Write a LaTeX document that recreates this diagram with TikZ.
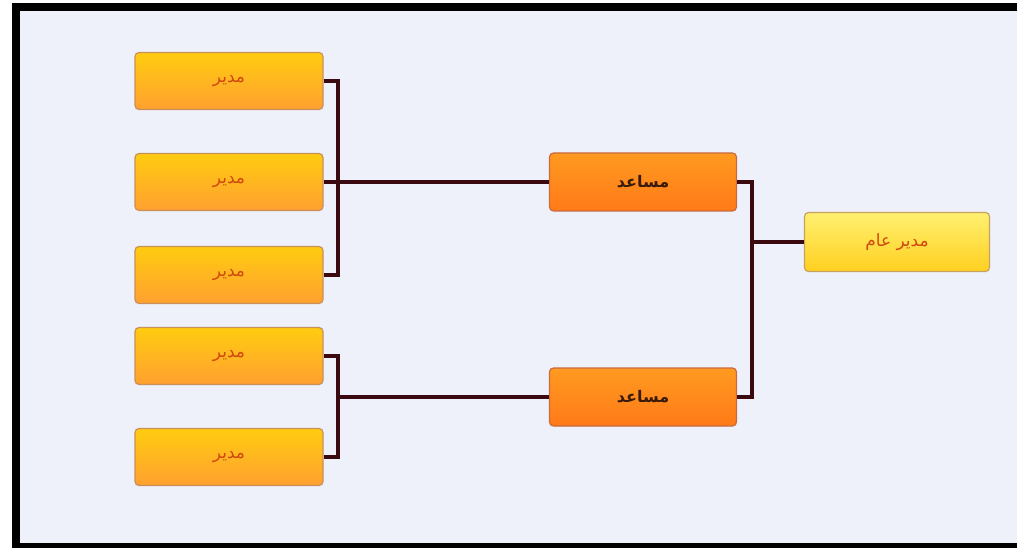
\documentclass[tikz,border=0pt]{standalone}
\usepackage{fontspec}
\newfontfamily\arabicfont[Script=Arabic]{DejaVu Sans}
\TeXXeTstate=1
\begin{document}
\begin{tikzpicture}[x=1pt,y=-1pt,
  mgr/.style={draw=mgrborder, line width=1.2pt, rounded corners=4pt, minimum width=188pt, minimum height=57pt, top color=mgrtop, bottom color=mgrbot, font=\arabicfont\fontsize{17}{17}\selectfont, text=mgrtext},
  asst/.style={draw=asstborder, line width=1.2pt, rounded corners=4pt, minimum width=187pt, minimum height=58pt, top color=assttop, bottom color=asstbot, font=\arabicfont\bfseries\fontsize{16}{16}\selectfont, text=assttext},
  gm/.style={draw=gmborder, line width=1.2pt, rounded corners=4pt, minimum width=185pt, minimum height=59pt, top color=gmtop, bottom color=gmbot, font=\arabicfont\fontsize{17}{17}\selectfont, text=mgrtext},
  conn/.style={draw=conncol, line width=4.5pt}]
\definecolor{bgc}{HTML}{EEF1FA}
\definecolor{mgrborder}{HTML}{C8905A}
\definecolor{mgrtop}{HTML}{FFCC10}
\definecolor{mgrbot}{HTML}{FFA030}
\definecolor{mgrtext}{HTML}{D04A10}
\definecolor{asstborder}{HTML}{C86A40}
\definecolor{assttop}{HTML}{FF9A20}
\definecolor{asstbot}{HTML}{FF7A18}
\definecolor{assttext}{HTML}{3A1A08}
\definecolor{gmborder}{HTML}{C8A060}
\definecolor{gmtop}{HTML}{FFF070}
\definecolor{gmbot}{HTML}{FFD020}
\definecolor{conncol}{HTML}{3A0A10}
\useasboundingbox (0,0) rectangle (1017,548);
\fill[white] (0,0) rectangle (1017,548);
\fill[black] (12,3) rectangle (1017,548);
\fill[bgc] (20,11) rectangle (1017,543);
% manager boxes
\node[mgr] (m1) at (229,81) {\beginR مدير\endR};
\node[mgr] (m2) at (229,182) {\beginR مدير\endR};
\node[mgr] (m3) at (229,275) {\beginR مدير\endR};
\node[mgr] (m4) at (229,356) {\beginR مدير\endR};
\node[mgr] (m5) at (229,457) {\beginR مدير\endR};
% assistants
\node[asst] (a1) at (643,182) {\beginR مساعد\endR};
\node[asst] (a2) at (643,397) {\beginR مساعد\endR};
% general manager
\node[gm] (g) at (897,242) {\beginR مدير عام\endR};
% connectors
\coordinate (j1) at (338,182);
\coordinate (j2) at (338,397);
\coordinate (j3) at (752,242);
\draw[conn] (m1.east) -| (j1) |- (m3.east);
\draw[conn] (m2.east) -- (j1) -- (a1.west);
\draw[conn] (m4.east) -| (j2) |- (m5.east);
\draw[conn] (j2) -- (a2.west);
\draw[conn] (a1.east) -| (j3) |- (a2.east);
\draw[conn] (j3) -- (g.west);
\end{tikzpicture}
\end{document}
